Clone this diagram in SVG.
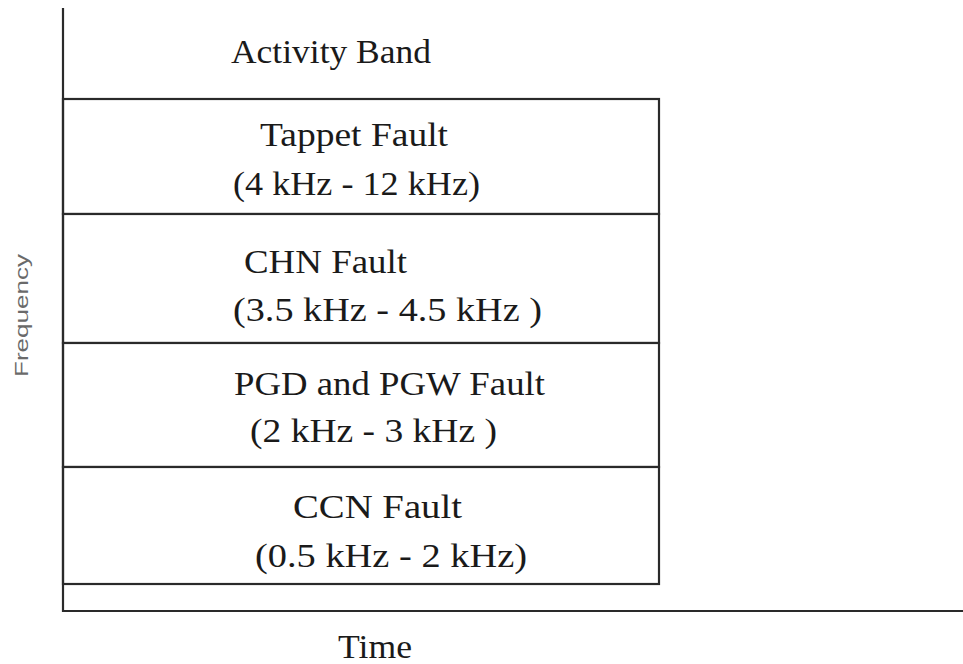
<svg xmlns="http://www.w3.org/2000/svg" width="963" height="664" viewBox="0 0 963 664">
<style>
.band{fill:#fff;stroke:#2a2a2a;stroke-width:2.2}
.axis{stroke:#2a2a2a;stroke-width:2.2;fill:none}
.t{font-family:"Liberation Serif","Times New Roman",serif;font-size:33px;fill:#1a1a1a}
.lab{font-family:"Liberation Sans",Arial,sans-serif;font-size:19px;fill:#6a6a6a}
</style>
<rect width="963" height="664" fill="#fff"/>
<g id="title"><text class="t" x="231" y="63" textLength="200" lengthAdjust="spacingAndGlyphs">Activity Band</text></g>
<g id="tappet">
<rect class="band" x="63" y="99" width="596" height="115"/>
<text class="t" x="260" y="146" textLength="188" lengthAdjust="spacingAndGlyphs">Tappet Fault</text>
<text class="t" x="233" y="195" textLength="247" lengthAdjust="spacingAndGlyphs">(4 kHz - 12 kHz)</text>
</g>
<g id="chn">
<rect class="band" x="63" y="214" width="596" height="129"/>
<text class="t" x="244" y="273" textLength="163" lengthAdjust="spacingAndGlyphs">CHN Fault</text>
<text class="t" x="233" y="321" textLength="309" lengthAdjust="spacingAndGlyphs">(3.5 kHz - 4.5 kHz )</text>
</g>
<g id="pgd">
<rect class="band" x="63" y="343" width="596" height="124"/>
<text class="t" x="234" y="395" textLength="311" lengthAdjust="spacingAndGlyphs">PGD and PGW Fault</text>
<text class="t" x="250" y="442" textLength="247" lengthAdjust="spacingAndGlyphs">(2 kHz - 3 kHz )</text>
</g>
<g id="ccn">
<rect class="band" x="63" y="467" width="596" height="117"/>
<text class="t" x="293" y="518" textLength="169" lengthAdjust="spacingAndGlyphs">CCN  Fault</text>
<text class="t" x="255" y="567" textLength="272" lengthAdjust="spacingAndGlyphs">(0.5 kHz - 2 kHz)</text>
</g>
<g id="connectors">
<path class="axis" d="M63 8 V611 H963"/>
</g>
<g id="labels">
<text class="t" x="338" y="658" textLength="74" lengthAdjust="spacingAndGlyphs">Time</text>
<text class="lab" transform="translate(28 316) rotate(-90)" x="-61" y="0" textLength="123" lengthAdjust="spacingAndGlyphs">Frequency</text>
</g>
</svg>
